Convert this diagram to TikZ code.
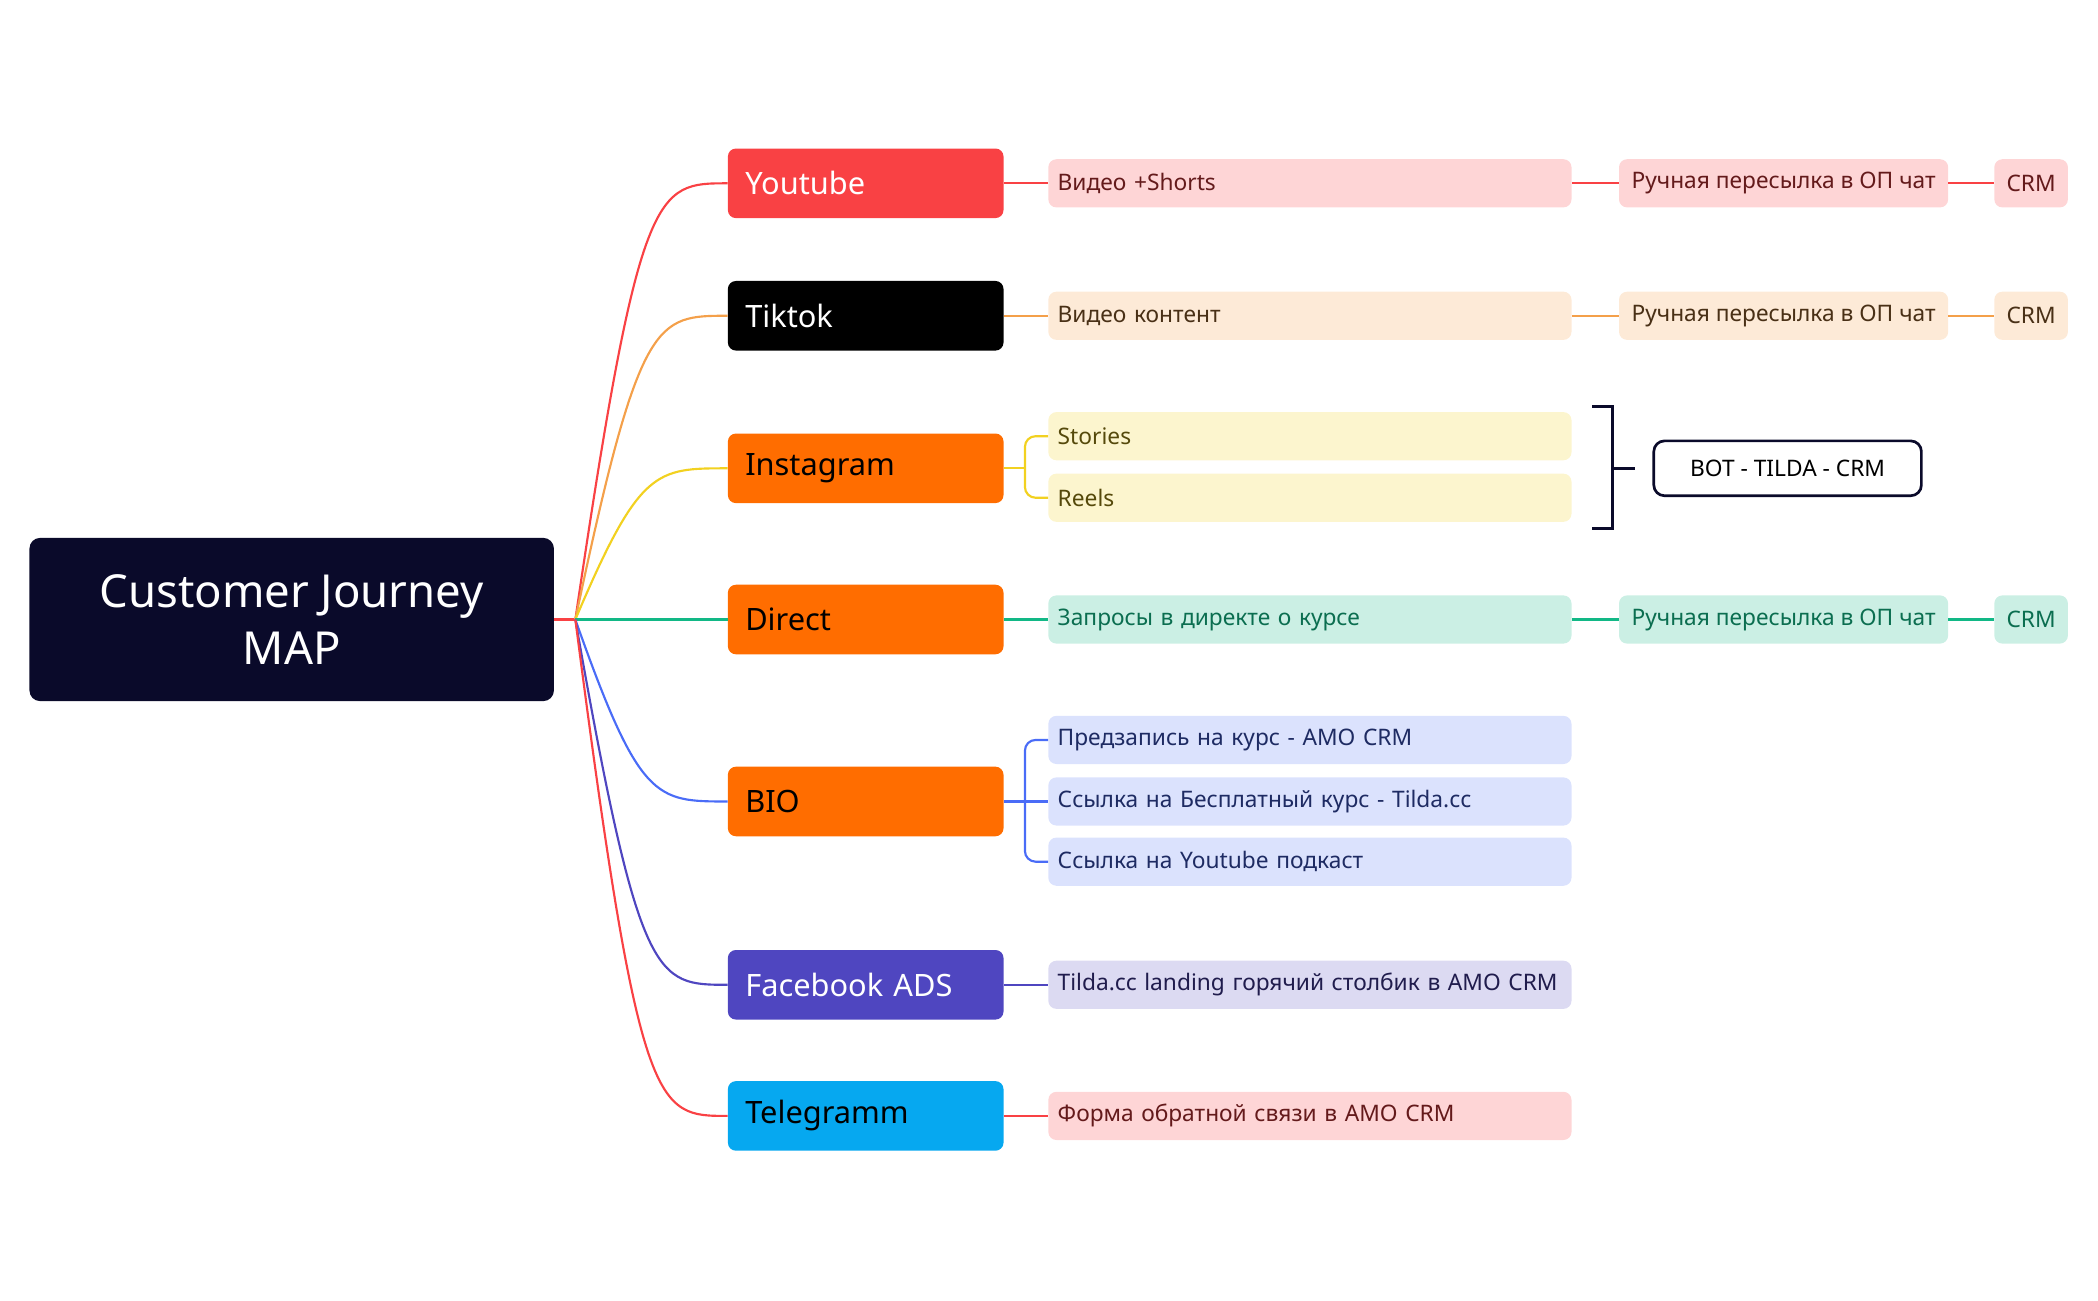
\documentclass[tikz,border=0pt]{standalone}
\usepackage{fontspec}
\setmainfont{Noto Sans}
\begin{document}
\begin{tikzpicture}[x=1pt,y=-1pt,
 l1/.style={rounded corners=6pt,minimum width=206pt,minimum height=52pt,text width=180pt,align=left,font=\fontsize{23}{26}\selectfont\bfseries,inner sep=0pt},
 l2/.style={rounded corners=6pt,minimum width=391pt,minimum height=36pt,text width=377pt,align=left,font=\fontsize{17}{20}\selectfont,inner sep=0pt},
 l3/.style={rounded corners=6pt,minimum width=246pt,minimum height=36pt,align=center,font=\fontsize{17}{20}\selectfont,inner sep=0pt},
 l4/.style={rounded corners=6pt,minimum width=55pt,minimum height=36pt,align=center,font=\fontsize{17}{20}\selectfont,inner sep=0pt},
 e/.style={line width=1.6pt}]
\useasboundingbox (0,0) rectangle (1568,972);
\definecolor{cred}{HTML}{F94144}\definecolor{cora}{HTML}{FF6D00}
\definecolor{ctik}{HTML}{F4A04A}\definecolor{cyel}{HTML}{F2D120}
\definecolor{cgrn}{HTML}{12B886}\definecolor{cblu}{HTML}{4A6CF7}
\definecolor{cfb}{HTML}{4F46C0}\definecolor{ctg}{HTML}{06A8F0}
\definecolor{croot}{HTML}{0A0A2A}
\node[fill=croot,rounded corners=8pt,minimum width=392pt,minimum height=122pt,text=white,align=center,font=\fontsize{34}{42}\selectfont\bfseries] (root) at (218,463) {Customer Journey\\MAP};
\coordinate (o) at (430,463);
\draw[e,cred] (root.east) -- (o);
\node[l1,fill=cred,text=white] (yt) at (647,137) {Youtube};
\node[l1,fill=black,text=white] (tt) at (647,236) {Tiktok};
\node[l1,fill=cora,text=black] (ig) at (647,350) {Instagram};
\node[l1,fill=cora,text=black] (dr) at (647,463) {Direct};
\node[l1,fill=cora,text=black] (bio) at (647,599) {BIO};
\node[l1,fill=cfb,text=white] (fb) at (647,736) {Facebook ADS};
\node[l1,fill=ctg,text=black] (tg) at (647,834) {Telegramm};
\foreach \n/\c/\y in {yt/cred/137,tt/ctik/236,ig/cyel/350,dr/cgrn/463,bio/cblu/599,fb/cfb/736,tg/cred/834}
  \draw[e,\c] (o) .. controls (478,\y) and (490,\y) .. (\n.west);
% level 2
\node[l2,fill=cred!22,text=cred!40!black] (yt2) at (979,137) {Видео +Shorts};
\node[l2,fill=ctik!22,text=ctik!30!black] (tt2) at (979,236) {Видео контент};
\node[l2,fill=cyel!22,text=cyel!35!black] (st) at (979,326) {Stories};
\node[l2,fill=cyel!22,text=cyel!35!black] (re) at (979,372) {Reels};
\node[l2,fill=cgrn!22,text=cgrn!60!black] (dr2) at (979,463) {Запросы в директе о курсе};
\node[l2,fill=cblu!20,text=cblu!40!black] (b1) at (979,553) {Предзапись на курс - AMO CRM};
\node[l2,fill=cblu!20,text=cblu!40!black] (b2) at (979,599) {Ссылка на Бесплатный курс - Tilda.cc};
\node[l2,fill=cblu!20,text=cblu!40!black] (b3) at (979,644) {Ссылка на Youtube подкаст};
\node[l2,fill=cfb!20,text=cfb!40!black] (fb2) at (979,736) {Tilda.cc landing горячий столбик в AMO CRM};
\node[l2,fill=cred!22,text=cred!40!black] (tg2) at (979,834) {Форма обратной связи в AMO CRM};
% level 3
\node[l3,fill=cred!22,text=cred!40!black] (yt3) at (1333,137) {Ручная пересылка в ОП чат};
\node[l3,fill=ctik!22,text=ctik!30!black] (tt3) at (1333,236) {Ручная пересылка в ОП чат};
\node[l3,fill=cgrn!22,text=cgrn!60!black] (dr3) at (1333,463) {Ручная пересылка в ОП чат};
\node[l4,fill=cred!22,text=cred!40!black] (yt4) at (1518,137) {CRM};
\node[l4,fill=ctik!22,text=ctik!30!black] (tt4) at (1518,236) {CRM};
\node[l4,fill=cgrn!22,text=cgrn!60!black] (dr4) at (1518,463) {CRM};
\node[draw=croot,line width=2pt,rounded corners=8pt,minimum width=200pt,minimum height=41pt,font=\fontsize{17}{20}\selectfont] (bot) at (1336,350) {BOT - TILDA - CRM};
% connectors
\draw[e,cred] (yt) -- (yt2); \draw[e,cred] (yt2) -- (yt3); \draw[e,cred] (yt3) -- (yt4);
\draw[e,ctik] (tt) -- (tt2); \draw[e,ctik] (tt2) -- (tt3); \draw[e,ctik] (tt3) -- (tt4);
\draw[e,cgrn] (dr) -- (dr2); \draw[e,cgrn] (dr2) -- (dr3); \draw[e,cgrn] (dr3) -- (dr4);
\draw[e,cfb] (fb) -- (fb2); \draw[e,cred] (tg) -- (tg2);
\draw[e,cyel] (ig.east) -- (766,350);
\draw[e,cyel,rounded corners=8pt] (st.west) -- (766,326) -- (766,372) -- (re.west);
\draw[e,cblu] (bio.east) -- (b2.west);
\draw[e,cblu,rounded corners=8pt] (b1.west) -- (766,553) -- (766,644) -- (b3.west);
\coordinate (bt) at (1190,304); \coordinate (bb) at (1190,395);
\draw[line width=2pt,croot] (bt) -- (1205,304) -- (1205,395) -- (bb);
\draw[line width=2pt,croot] (1205,350) -- (bot.west -| 1222,350);
\end{tikzpicture}
\end{document}
